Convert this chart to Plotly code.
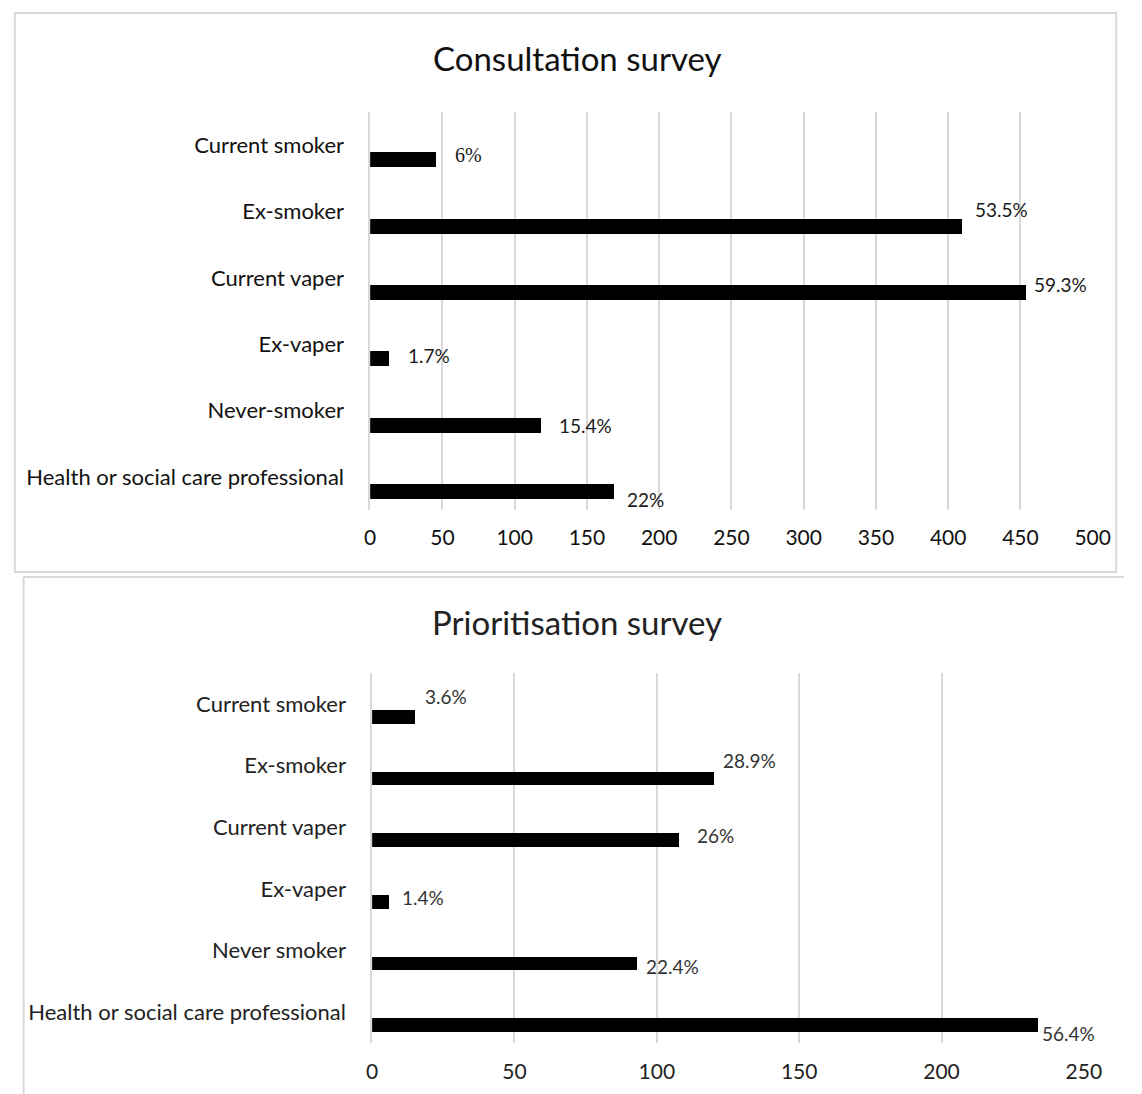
import plotly.graph_objects as go

W, H = 1142, 1094

# ---- data ----
top_title = "Consultation survey"
top_categories = ["Current smoker", "Ex-smoker", "Current vaper", "Ex-vaper",
                  "Never-smoker", "Health or social care professional"]
top_values = [46, 410, 454, 13, 118, 169]
top_labels = ["6%", "53.5%", "59.3%", "1.7%", "15.4%", "22%"]
top_ticks = [0, 50, 100, 150, 200, 250, 300, 350, 400, 450, 500]

bot_title = "Prioritisation survey"
bot_categories = ["Current smoker", "Ex-smoker", "Current vaper", "Ex-vaper",
                  "Never smoker", "Health or social care professional"]
bot_values = [15, 120, 108, 6, 93, 234]
bot_labels = ["3.6%", "28.9%", "26%", "1.4%", "22.4%", "56.4%"]
bot_ticks = [0, 50, 100, 150, 200, 250]

# ---- label placement (pixel offsets) ----
top_shift = [(16, -10), (10, 2.5), (6, -7), (17, -11), (16, -14.5), (11, -23)]
bot_shift = [(8, 7), (7, 5.5), (15, -8), (10.5, -9), (7.5, -15.5), (1.5, -21)]

FONT = "Lato"
GRID = "#d9d9d9"


def px_x(p):
    return p / W


def px_y(p):
    return 1 - p / H


fig = go.Figure()

fig.add_trace(go.Bar(
    x=top_values, y=top_categories, orientation="h",
    xaxis="x", yaxis="y", offset=0.106, width=0.226,
    marker=dict(color="black", line=dict(width=0)),
    hoverinfo="x+y", showlegend=False,
))
fig.add_trace(go.Bar(
    x=bot_values, y=bot_categories, orientation="h",
    xaxis="x2", yaxis="y2", offset=0.1, width=0.22,
    marker=dict(color="black", line=dict(width=0)),
    hoverinfo="x+y", showlegend=False,
))

annotations = []
for i, (v, c, t) in enumerate(zip(top_values, top_categories, top_labels)):
    dx, dy = top_shift[i]
    f = dict(family="Liberation Serif, Times New Roman, serif", size=20, color="#1a1a1a") if i == 0 else \
        dict(family=FONT, size=19, color="#1a1a1a")
    annotations.append(dict(x=v, y=c, xref="x", yref="y", text=t, showarrow=False,
                            xanchor="left", yanchor="middle", xshift=dx, yshift=dy,
                            font=f))
for i, (v, c, t) in enumerate(zip(bot_values, bot_categories, bot_labels)):
    dx, dy = bot_shift[i]
    annotations.append(dict(x=v, y=c, xref="x2", yref="y2", text=t, showarrow=False,
                            xanchor="left", yanchor="middle", xshift=dx, yshift=dy,
                            font=dict(family=FONT, size=19, color="#333333")))

annotations.append(dict(x=px_x(583.5), y=px_y(58), xref="paper", yref="paper",
                        text=top_title, showarrow=False, xanchor="center",
                        yanchor="middle", font=dict(family=FONT, size=33, color="#111111")))
annotations.append(dict(x=px_x(583.5), y=px_y(622), xref="paper", yref="paper",
                        text=bot_title, showarrow=False, xanchor="center",
                        yanchor="middle", font=dict(family=FONT, size=33, color="#222222")))

shapes = [
    dict(type="rect", xref="paper", yref="paper",
         x0=px_x(9), x1=px_x(1134), y0=px_y(572), y1=px_y(13),
         line=dict(color=GRID, width=2), fillcolor="rgba(0,0,0,0)", layer="below"),
    dict(type="line", xref="paper", yref="paper",
         x0=px_x(18), x1=px_x(1142), y0=px_y(577), y1=px_y(577),
         line=dict(color=GRID, width=2)),
    dict(type="line", xref="paper", yref="paper",
         x0=px_x(18), x1=px_x(18), y0=px_y(577), y1=px_y(1094),
         line=dict(color=GRID, width=2)),
]

axis_font = dict(family=FONT, size=22, color="#111111")
num_font = dict(family=FONT, size=21, color="#111111")
bot_cat_font = dict(family=FONT, size=22, color="#222222")
bot_num_font = dict(family=FONT, size=21, color="#222222")

fig.update_layout(
    width=W, height=H, autosize=False,
    margin=dict(l=0, r=0, t=0, b=0),
    paper_bgcolor="white", plot_bgcolor="white",
    bargap=0, showlegend=False,
    annotations=annotations, shapes=shapes,
    xaxis=dict(domain=[px_x(372), px_x(1110)], range=[0, 500],
               tickvals=top_ticks, ticktext=[str(t) for t in top_ticks],
               showgrid=True, gridcolor=GRID, gridwidth=1.5, zeroline=False,
               showline=False, tickfont=num_font, ticks="", ticklabelstandoff=13,
               anchor="y", fixedrange=True),
    yaxis=dict(domain=[px_y(510), px_y(112)], type="category",
               categoryorder="array", categoryarray=top_categories,
               range=[5.5, -0.5], showgrid=False, zeroline=False,
               showline=True, linecolor=GRID, linewidth=1.5,
               tickfont=axis_font, ticks="", ticklabelstandoff=20,
               anchor="x", fixedrange=True),
    xaxis2=dict(domain=[px_x(374), px_x(1101)], range=[0, 250],
                tickvals=bot_ticks, ticktext=[str(t) for t in bot_ticks],
                showgrid=True, gridcolor=GRID, gridwidth=1.5, zeroline=False,
                showline=False, tickfont=bot_num_font,
                ticks="", ticklabelstandoff=14, anchor="y2", fixedrange=True),
    yaxis2=dict(domain=[px_y(1043), px_y(673)], type="category",
                categoryorder="array", categoryarray=bot_categories,
                range=[5.5, -0.5], showgrid=False, zeroline=False,
                showline=True, linecolor=GRID, linewidth=1.5,
                tickfont=bot_cat_font, ticks="",
                ticklabelstandoff=20, anchor="x2", fixedrange=True),
)

post = ("document.documentElement.style.overflow='hidden';"
        "document.body.style.overflow='hidden';"
        "document.body.style.margin='0';"
        "Plotly.relayout(document.getElementById('{plot_id}'), {width: %d, height: %d});" % (W, H))

fig.write_html("out.html", post_script=post, config={"responsive": False})
